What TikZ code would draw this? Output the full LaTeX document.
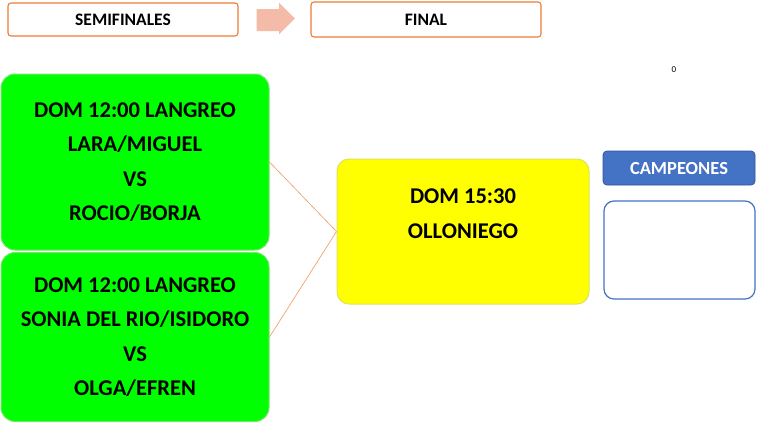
\documentclass[tikz,border=0pt]{standalone}
\usepackage{fontspec}
\setmainfont{Carlito}

\definecolor{naranja}{RGB}{237,125,49}
\definecolor{salmon}{RGB}{244,188,168}
\definecolor{verde}{RGB}{0,255,0}
\definecolor{verdeborde}{RGB}{120,230,110}
\definecolor{amarillo}{RGB}{255,255,0}
\definecolor{amarilloborde}{RGB}{225,225,90}
\definecolor{azul}{RGB}{68,114,196}
\definecolor{azulborde}{RGB}{47,85,151}

\tikzset{
  cabecera/.style={draw=naranja, line width=1.1pt, rounded corners=3pt, fill=white,
    font=\bfseries\fontsize{17.5}{19}\selectfont, inner sep=0pt},
  partido/.style={draw=verdeborde, line width=1pt, fill=verde, rounded corners=14pt,
    align=center, inner sep=0pt, font=\bfseries\fontsize{22.5}{34.3}\selectfont},
  final/.style={draw=amarilloborde, line width=1pt, fill=amarillo, rounded corners=12pt,
    align=center, inner sep=0pt, font=\bfseries\fontsize{22.5}{35}\selectfont},
  enlace/.style={draw=naranja!80, line width=0.6pt},
}

\begin{document}
\begin{tikzpicture}[x=1pt,y=-1pt]
\useasboundingbox (0,0) rectangle (758,424);

% cabeceras
\node[cabecera, minimum width=230pt, minimum height=33pt] (semis) at (123,19.5) {SEMIFINALES};
\node[cabecera, minimum width=230pt, minimum height=35pt] (fin) at (426,19.5) {FINAL};
\fill[salmon] (256.5,9)--(279,9)--(279,2.7)--(295,18.5)--(279,34.3)--(279,31)--(256.5,31)--cycle;

% semifinales
\node[partido, minimum width=268pt, minimum height=176pt] (semi1) at (135,162)
  {DOM 12:00 LANGREO\\LARA/MIGUEL\\VS\\ROCIO/BORJA};
\node[partido, minimum width=268pt, minimum height=169pt] (semi2) at (135,337)
  {DOM 12:00 LANGREO\\SONIA DEL RIO/ISIDORO\\VS\\OLGA/EFREN};

% final
\node[final, minimum width=252pt, minimum height=145pt] (partfinal) at (463,231.5)
  {DOM 15:30\\OLLONIEGO\\\mbox{}};

\draw[enlace] (semi1.east) -- (partfinal.west);
\draw[enlace] (semi2.east) -- (partfinal.west);

% campeones
\node[font=\fontsize{9}{10}\selectfont, inner sep=0pt] (cero) at (674,69.7) {0};
\node[draw=azulborde, line width=0.8pt, fill=azul, rounded corners=4pt, text=white,
  font=\bfseries\fontsize{18.5}{20}\selectfont, minimum width=152pt, minimum height=34pt,
  inner sep=0pt] (campeones) at (679,168) {CAMPEONES};
\node[draw=azul, line width=1.2pt, rounded corners=10pt, minimum width=151pt,
  minimum height=98pt] (ganador) at (679.5,250) {};

\end{tikzpicture}
\end{document}
